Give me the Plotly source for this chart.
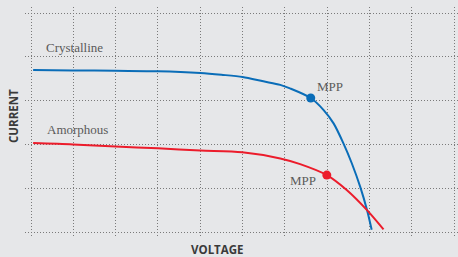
import plotly.graph_objects as go

# Data (arbitrary units: voltage grid unit = 1, current grid unit = 1)
cryst_v = [0.05, 0.99, 2.0, 3.0, 4.0, 4.5, 5.0, 5.49, 5.89, 6.12, 6.61, 6.91, 7.15, 7.38, 7.58, 7.78, 7.94, 8.05]
cryst_i = [3.70, 3.69, 3.68, 3.67, 3.63, 3.59, 3.54, 3.44, 3.36, 3.28, 3.06, 2.79, 2.48, 2.03, 1.57, 1.03, 0.50, 0.05]
amor_v = [0.05, 0.99, 2.0, 3.0, 4.0, 4.99, 5.89, 6.36, 6.99, 7.46, 7.94, 8.33]
amor_i = [2.03, 2.00, 1.95, 1.91, 1.86, 1.82, 1.68, 1.55, 1.30, 0.96, 0.50, 0.06]
mpp_cryst = (6.61, 3.06)
mpp_amor = (6.99, 1.30)
series_names = ["Crystalline", "Amorphous"]

BLUE = "#0a6db8"
RED = "#ec1c2b"
serif = "Liberation Serif"
sans = "Open Sans"

fig = go.Figure()
fig.add_trace(go.Scatter(x=cryst_v, y=cryst_i, mode="lines", line=dict(color=BLUE, width=2, shape="spline", smoothing=0.8),
                         name=series_names[0], hoverinfo="skip"))
fig.add_trace(go.Scatter(x=amor_v, y=amor_i, mode="lines", line=dict(color=RED, width=2, shape="spline", smoothing=0.8),
                         name=series_names[1], hoverinfo="skip"))
fig.add_trace(go.Scatter(x=[mpp_cryst[0]], y=[mpp_cryst[1]], mode="markers", marker=dict(color=BLUE, size=9),
                         hoverinfo="skip"))
fig.add_trace(go.Scatter(x=[mpp_amor[0]], y=[mpp_amor[1]], mode="markers", marker=dict(color=RED, size=9),
                         hoverinfo="skip"))

lab_font = dict(family=serif, size=13, color="#5a5a5a")
anns = [
    dict(x=0.31, y=4.21, text=series_names[0], xanchor="left", yanchor="middle", showarrow=False, font=lab_font),
    dict(x=0.33, y=2.33, text=series_names[1], xanchor="left", yanchor="middle", showarrow=False, font=lab_font),
    dict(x=mpp_cryst[0], y=mpp_cryst[1], text="MPP", xanchor="left", yanchor="middle", showarrow=False,
         xshift=4, yshift=11, font=lab_font),
    dict(x=mpp_amor[0], y=mpp_amor[1], text="MPP", xanchor="right", yanchor="middle", showarrow=False,
         xshift=-9, yshift=-5, font=lab_font),
    dict(x=-0.0283, y=0.523, xref="paper", yref="paper", text="<b>CURRENT</b>", textangle=-90, showarrow=False,
         xanchor="center", yanchor="middle", borderpad=0, font=dict(family=sans, size=11.5, color="#3a3a3a")),
    dict(x=0.4457, y=-0.059, xref="paper", yref="paper", text="<b>VOLTAGE</b>", showarrow=False,
         xanchor="center", yanchor="middle", borderpad=0, font=dict(family=sans, size=11.5, color="#3a3a3a")),
]

fig.update_layout(
    width=458, height=257,
    margin=dict(l=25, r=0, t=7, b=21),
    paper_bgcolor="#e6e7e9", plot_bgcolor="#e6e7e9",
    showlegend=False,
    annotations=anns,
    hovermode=False,
)
fig.update_xaxes(range=[-0.142, 10.09], tick0=0, dtick=1, showgrid=True, gridcolor="#7a7a7a",
                 griddash="1px,2px", gridwidth=1, zeroline=False, showticklabels=False, ticks="", showline=False)
fig.update_yaxes(range=[-0.091, 5.137], tick0=0, dtick=1, showgrid=True, gridcolor="#7a7a7a",
                 griddash="1px,2px", gridwidth=1, zeroline=False, showticklabels=False, ticks="", showline=False)

fig.write_html("out.html", config={"displayModeBar": False, "staticPlot": True},
               post_script="document.body.style.margin='0px';document.body.style.overflow='hidden';document.body.style.background='#e6e7e9';")
